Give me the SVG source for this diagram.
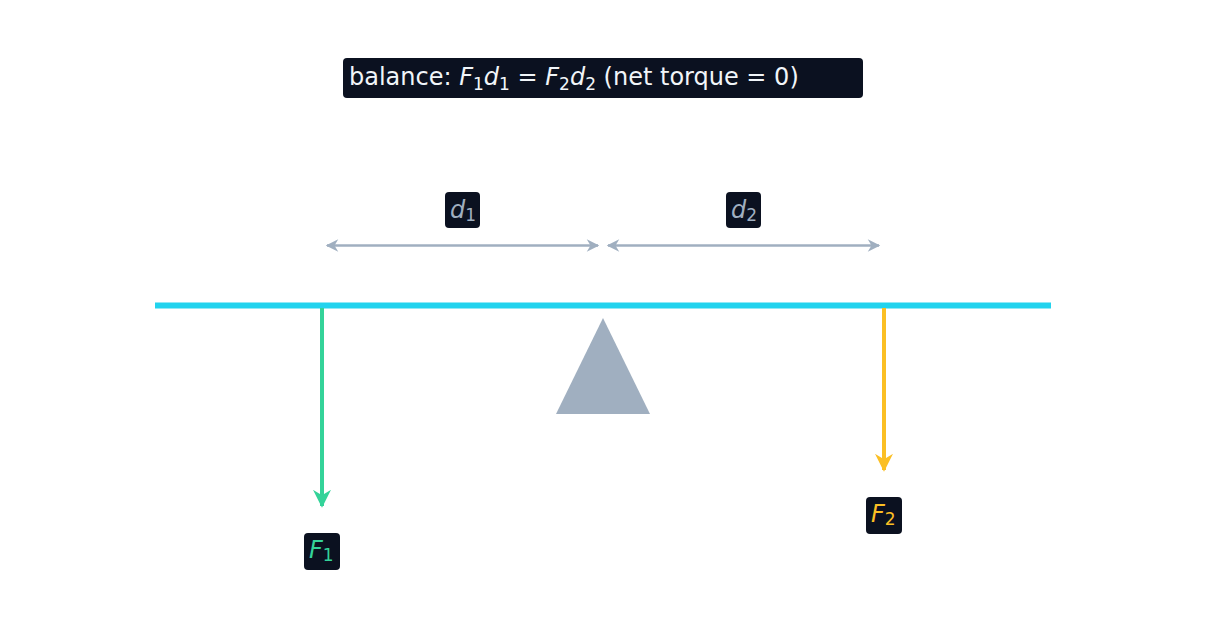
<svg xmlns="http://www.w3.org/2000/svg" width="1206" height="636" viewBox="0 0 1206 636">
<style>
.box{fill:#0b1120}
.t{font-family:"DejaVu Sans",sans-serif;font-size:24px}
.i{font-style:italic}
.s{font-size:17px}
</style>
<defs>
<marker id="mg" viewBox="0 0 10 10" refX="9" refY="5" markerWidth="4.5" markerHeight="4.5" orient="auto" markerUnits="strokeWidth"><path d="M0,0 L10,5 L0,10 L3,5 Z" fill="#34d399"/></marker>
<marker id="my" viewBox="0 0 10 10" refX="9" refY="5" markerWidth="4.5" markerHeight="4.5" orient="auto" markerUnits="strokeWidth"><path d="M0,0 L10,5 L0,10 L3,5 Z" fill="#fbbf24"/></marker>
<marker id="ms" viewBox="0 0 10 10" refX="9" refY="5" markerWidth="6" markerHeight="5" orient="auto-start-reverse" markerUnits="strokeWidth"><path d="M0,0 L10,5 L0,10 L3,5 Z" fill="#a0afc0"/></marker>
</defs>
<rect width="1206" height="636" fill="#fff"/>
<g id="title"><rect class="box" x="343" y="58" width="520" height="40" rx="4"/>
<text class="t" x="349" y="85" fill="#f1f5f9">balance:  <tspan class="i">F</tspan><tspan class="s" dy="5">1</tspan><tspan class="i" dy="-5">d</tspan><tspan class="s" dy="5">1</tspan><tspan dy="-5"> = </tspan><tspan class="i">F</tspan><tspan class="s" dy="5">2</tspan><tspan class="i" dy="-5">d</tspan><tspan class="s" dy="5">2</tspan><tspan dy="-5">   (net torque = 0)</tspan></text></g>
<g id="beam"><line x1="155" y1="305.5" x2="1051" y2="305.5" stroke="#22d3ee" stroke-width="6"/></g>
<g id="fulcrum"><polygon points="603,318 556,414 650,414" fill="#a0afc0"/></g>
<g id="connectors" fill="none">
<line x1="322" y1="308" x2="322" y2="506" stroke="#34d399" stroke-width="4" marker-end="url(#mg)"/>
<line x1="884" y1="308" x2="884" y2="470" stroke="#fbbf24" stroke-width="4" marker-end="url(#my)"/>
<line x1="327" y1="245.5" x2="598" y2="245.5" stroke="#a0afc0" stroke-width="2.5" marker-start="url(#ms)" marker-end="url(#ms)"/>
<line x1="608" y1="245.5" x2="879" y2="245.5" stroke="#a0afc0" stroke-width="2.5" marker-start="url(#ms)" marker-end="url(#ms)"/>
</g>
<g id="d1"><rect class="box" x="445" y="192" width="35" height="36" rx="4"/><text class="t" x="450" y="218" fill="#a0afc0"><tspan class="i">d</tspan><tspan class="s" dy="3">1</tspan></text></g>
<g id="d2"><rect class="box" x="726" y="192" width="35" height="36" rx="4"/><text class="t" x="731" y="218" fill="#a0afc0"><tspan class="i">d</tspan><tspan class="s" dy="3">2</tspan></text></g>
<g id="F1"><rect class="box" x="304" y="533" width="36" height="37" rx="4"/><text class="t" x="309" y="558" fill="#34d399"><tspan class="i">F</tspan><tspan class="s" dy="3">1</tspan></text></g>
<g id="F2"><rect class="box" x="866" y="497" width="36" height="37" rx="4"/><text class="t" x="871" y="522" fill="#fbbf24"><tspan class="i">F</tspan><tspan class="s" dy="3">2</tspan></text></g>
</svg>
